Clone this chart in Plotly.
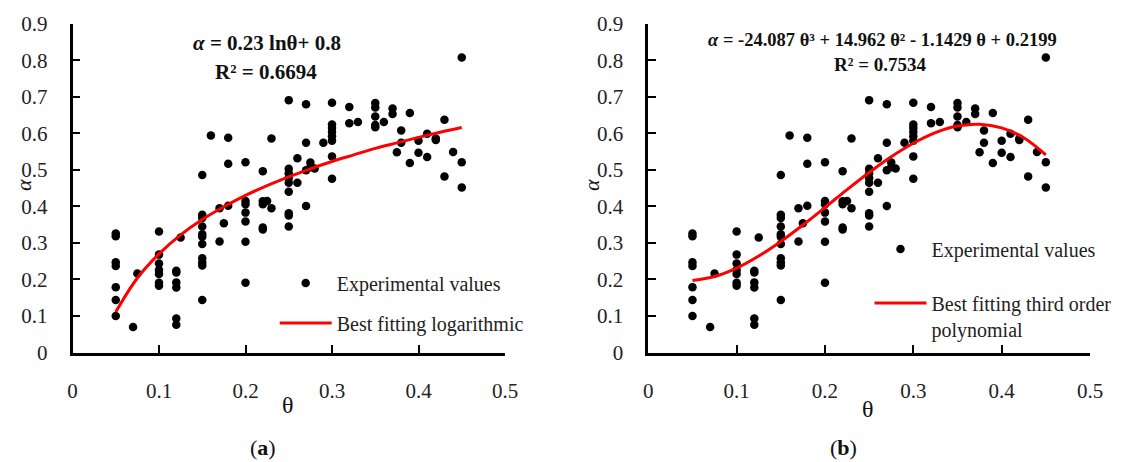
import plotly.graph_objects as go

# ---- data (theta, alpha) ----
theta = [0.45, 0.25, 0.27, 0.30, 0.32, 0.35, 0.35, 0.37, 0.37, 0.39, 0.43, 0.35, 0.32, 0.33,
         0.35, 0.35, 0.36, 0.30, 0.30, 0.30, 0.30, 0.30, 0.38, 0.41, 0.42, 0.42, 0.40, 0.38,
         0.16, 0.18, 0.23, 0.27, 0.29, 0.375, 0.40, 0.41, 0.44, 0.39, 0.45, 0.18, 0.20, 0.26,
         0.30, 0.275, 0.275, 0.27, 0.28, 0.25, 0.25, 0.25, 0.25, 0.26, 0.25, 0.15, 0.22, 0.30,
         0.43, 0.45,
         0.20, 0.20, 0.22, 0.225, 0.22, 0.23, 0.27, 0.20, 0.20, 0.25, 0.25, 0.25, 0.22, 0.22,
         0.17, 0.18, 0.175, 0.17, 0.20,
         0.15, 0.15, 0.15, 0.15, 0.15, 0.15, 0.15, 0.15, 0.15, 0.15,
         0.10, 0.125,
         0.10, 0.10, 0.10, 0.10, 0.10, 0.10,
         0.12, 0.12, 0.12, 0.12, 0.12, 0.12,
         0.075, 0.07,
         0.05, 0.05, 0.05, 0.05, 0.05, 0.05, 0.05,
         0.20]
alpha = [0.808, 0.691, 0.680, 0.684, 0.672, 0.683, 0.671, 0.668, 0.653, 0.656, 0.637, 0.646, 0.628, 0.631,
         0.623, 0.617, 0.631, 0.624, 0.615, 0.604, 0.592, 0.580, 0.608, 0.599, 0.586, 0.582, 0.580, 0.574,
         0.594, 0.588, 0.586, 0.574, 0.574, 0.548, 0.547, 0.535, 0.549, 0.519, 0.521, 0.517, 0.521, 0.532,
         0.537, 0.520, 0.507, 0.499, 0.504, 0.503, 0.491, 0.478, 0.465, 0.465, 0.440, 0.486, 0.496, 0.476,
         0.482, 0.452,
         0.415, 0.406, 0.414, 0.415, 0.406, 0.395, 0.401, 0.383, 0.359, 0.381, 0.375, 0.345, 0.342, 0.337,
         0.395, 0.402, 0.354, 0.304, 0.303,
         0.377, 0.368, 0.345, 0.324, 0.317, 0.297, 0.258, 0.247, 0.238, 0.144,
         0.331, 0.315,
         0.268, 0.244, 0.226, 0.215, 0.191, 0.183,
         0.224, 0.219, 0.192, 0.178, 0.093, 0.076,
         0.216, 0.070,
         0.326, 0.318, 0.247, 0.237, 0.179, 0.144, 0.100,
         0.191]

# fitted curves
fit_x = [0.05, 0.075, 0.10, 0.125, 0.15, 0.175, 0.20, 0.225, 0.25, 0.275, 0.30, 0.325,
         0.35, 0.375, 0.40, 0.425, 0.45]
log_fit = [0.111, 0.204, 0.270, 0.322, 0.364, 0.399, 0.430, 0.457, 0.481, 0.503, 0.523, 0.541,
           0.559, 0.574, 0.589, 0.603, 0.616]
poly_fit = [0.197, 0.208, 0.231, 0.264, 0.304, 0.349, 0.397, 0.446, 0.493, 0.536, 0.573, 0.602,
            0.620, 0.625, 0.615, 0.588, 0.541]

x_ticks = [0, 0.1, 0.2, 0.3, 0.4, 0.5]
x_labels = ["0", "0.1", "0.2", "0.3", "0.4", "0.5"]
y_ticks = [0, 0.1, 0.2, 0.3, 0.4, 0.5, 0.6, 0.7, 0.8, 0.9]
y_labels = ["0", "0.1", "0.2", "0.3", "0.4", "0.5", "0.6", "0.7", "0.8", "0.9"]

# the page body has an 8px margin, so the figure is drawn 8px in from the corner
OFF = 8
W, H = 1123 - OFF, 462 - OFF
FONT = "Liberation Serif"


def px(x):
    return (x - OFF) / W


def py(y):
    return 1 - (y - OFF) / H


fig = go.Figure()

# left panel
fig.add_trace(go.Scatter(x=theta, y=alpha, mode="markers", name="Experimental values",
                         marker=dict(color="black", size=8.5), xaxis="x", yaxis="y",
                         legend="legend"))
fig.add_trace(go.Scatter(x=fit_x, y=log_fit, mode="lines", name="Best fitting logarithmic",
                         line=dict(color="#ff0000", width=3, shape="spline"),
                         xaxis="x", yaxis="y", legend="legend2"))
# right panel
fig.add_trace(go.Scatter(x=theta, y=alpha, mode="markers", name="Experimental values",
                         marker=dict(color="black", size=8.5), xaxis="x2", yaxis="y2",
                         legend="legend3"))
fig.add_trace(go.Scatter(x=fit_x, y=poly_fit, mode="lines",
                         name="Best fitting third order<br>polynomial",
                         line=dict(color="#ff0000", width=3, shape="spline"),
                         xaxis="x2", yaxis="y2", legend="legend4"))

axis_common = dict(showgrid=False, zeroline=False, showline=True, linecolor="black",
                   linewidth=2.5, ticks="inside", ticklen=8, tickwidth=2, tickcolor="black",
                   automargin=False,
                   tickfont=dict(family=FONT, size=21, color="#222"))

ydom = [py(352.5), py(23.8)]
fig.update_layout(
    width=W, height=H, margin=dict(l=0, r=0, t=0, b=0, autoexpand=False),
    paper_bgcolor="white", plot_bgcolor="white",
    xaxis=dict(domain=[px(72.5), px(505)], range=[0, 0.5], tickvals=x_ticks, ticktext=x_labels,
               anchor="y", ticklabelstandoff=18, **axis_common),
    yaxis=dict(domain=ydom, range=[0, 0.9], tickvals=y_ticks, ticktext=y_labels,
               anchor="x", ticklabelstandoff=18, **axis_common),
    xaxis2=dict(domain=[px(648.3), px(1090)], range=[0, 0.5], tickvals=x_ticks, ticktext=x_labels,
                anchor="y2", ticklabelstandoff=18, **axis_common),
    yaxis2=dict(domain=ydom, range=[0, 0.9], tickvals=y_ticks, ticktext=y_labels,
                anchor="x2", ticklabelstandoff=18, **axis_common),
    showlegend=True,
)

leg_common = dict(bgcolor="rgba(0,0,0,0)", borderwidth=0, itemwidth=52, xanchor="left",
                  yanchor="middle", valign="top", font=dict(family=FONT, size=20, color="#222"))
fig.update_layout(
    legend=dict(x=px(274.7), y=py(283), **leg_common),
    legend2=dict(x=px(274.7), y=py(323), **leg_common),
    legend3=dict(x=px(869.5), y=py(249), **leg_common),
    legend4=dict(x=px(869.5), y=py(316), **leg_common),
)

ann = []
def add_text(x, y, text, size, angle=0, color="#111"):
    ann.append(dict(x=px(x), y=py(y), xref="paper", yref="paper", text=text, showarrow=False,
                    xanchor="center", yanchor="middle", textangle=angle,
                    font=dict(family=FONT, size=size, color=color)))

add_text(267, 43, "<b><i>α</i> = 0.23 lnθ+ 0.8</b>", 21)
add_text(266, 72, "<b>R² = 0.6694</b>", 21)
add_text(882, 40, "<b><i>α</i> = -24.087 θ³ + 14.962 θ² - 1.1429 θ + 0.2199</b>", 18.5)
add_text(880, 65, "<b>R² = 0.7534</b>", 19)
add_text(23, 185, "<i>α</i>", 22, angle=-90)
add_text(591, 185, "<i>α</i>", 22, angle=-90)
add_text(288, 405, "θ", 24)
add_text(868, 409, "θ", 24)
add_text(263, 447, "(<b>a</b>)", 22)
add_text(843, 447, "(<b>b</b>)", 22)
fig.update_layout(annotations=ann)

fig.write_html("out.html")
